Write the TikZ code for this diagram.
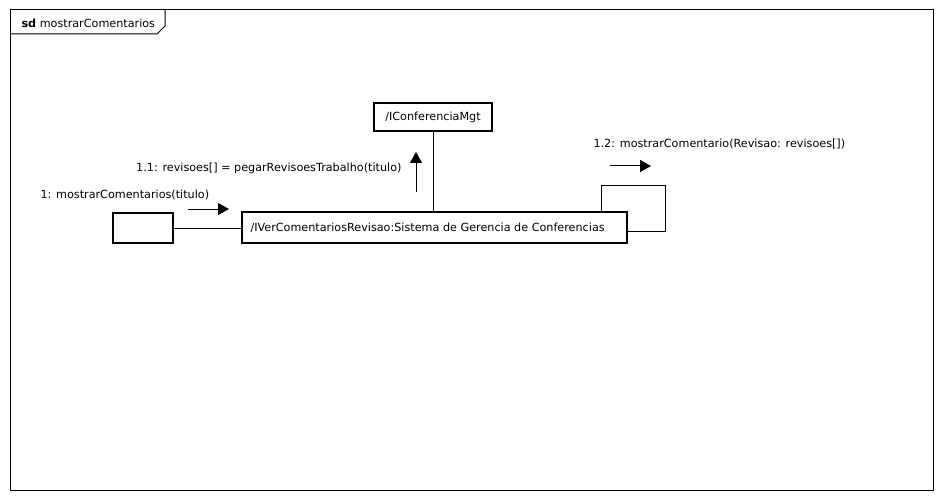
\documentclass[tikz,border=0pt]{standalone}
\usepackage{fontspec}
\setmainfont{DejaVu Sans}
\usetikzlibrary{arrows.meta}

\begin{document}
\begin{tikzpicture}[x=1pt,y=-1pt,font=\fontsize{11.2}{13}\selectfont,
    objbox/.style={draw,line width=2pt,inner sep=0pt},
    link/.style={line width=1pt},
    msg/.style={line width=1pt,-{Triangle[length=11pt,width=12pt]}}]
  \useasboundingbox (0,0) rectangle (943,500);
  % frame and its tab
  \draw[line width=1pt] (10,10) rectangle (933,490);
  \draw[line width=1pt] (10,34) -- (157,34) -- (165,26) -- (165,10);
  \node[anchor=west] (sdname) at (18,23) {\textbf{sd} mostrarComentarios};
  % objects
  \node[objbox,minimum width=60pt,minimum height=30pt] (actor) at (143,228) {};
  \node[objbox,minimum width=385pt,minimum height=31pt] (sistema) at (434.5,227.5) {};
  \node[anchor=west,xshift=6pt] at (sistema.west) {/IVerComentariosRevisao:Sistema de Gerencia de Conferencias};
  \node[objbox,minimum width=118pt,minimum height=28pt] (mgt) at (433,117) {/IConferenciaMgt};
  % links
  \draw[link] (actor.east) -- (actor.east -| sistema.west);
  \draw[link] (mgt.south) -- (mgt.south |- sistema.north);
  \coordinate (loopA) at (601,186);
  \coordinate (loopB) at (665,231);
  \draw[link] (sistema.north -| loopA) -- (loopA) -| (loopB) -- (loopB -| sistema.east);
  % messages
  \node[anchor=west] (m1) at (37,195) {1: mostrarComentarios(titulo)};
  \coordinate (m1a) at (188,209);
  \coordinate (m1b) at (229,209);
  \draw[msg] (m1a) -- (m1b);
  \node[anchor=east] (m11) at (405,168) {1.1: revisoes[] = pegarRevisoesTrabalho(titulo)};
  \coordinate (m11a) at (416,192);
  \coordinate (m11b) at (416,152);
  \draw[msg] (m11a) -- (m11b);
  \node[anchor=west] (m12) at (590,144) {1.2: mostrarComentario(Revisao: revisoes[])};
  \coordinate (m12a) at (610,166);
  \coordinate (m12b) at (651,166);
  \draw[msg] (m12a) -- (m12b);
\end{tikzpicture}
\end{document}
